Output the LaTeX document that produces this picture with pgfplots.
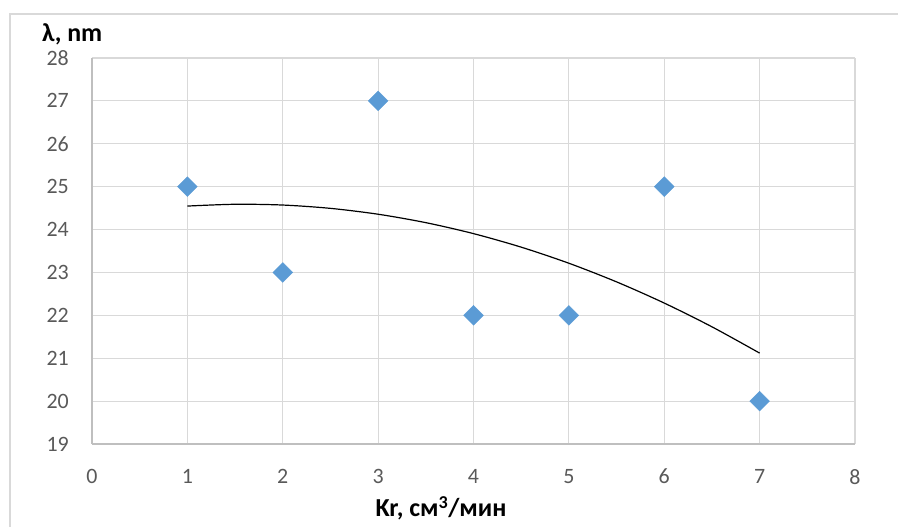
\documentclass[border=0pt]{standalone}
\usepackage{pgfplots}
\pgfplotsset{compat=1.18}
\usepackage{fontspec}
\setmainfont{Carlito}
\definecolor{mkblue}{HTML}{5B9BD5}
\definecolor{gridc}{HTML}{D9D9D9}
\definecolor{axc}{HTML}{BFBFBF}
\definecolor{tickc}{HTML}{595959}
\begin{document}
\begin{tikzpicture}[x=1bp,y=1bp]
\path[use as bounding box] (0,0) rectangle (898,527);
\draw[gridc, line width=1.5bp] (10,0) -- (10,513) -- (898,513);
\begin{axis}[
  at={(92bp,83bp)}, anchor=south west,
  scale only axis, width=763bp, height=386bp,
  xmin=0, xmax=8, ymin=19, ymax=28,
  xtick={0,...,8}, ytick={19,...,28},
  major tick length=0pt,
  grid=major,
  grid style={gridc, line width=1.1bp},
  axis line style={axc, line width=1.3bp},
  axis x line*=bottom, axis y line*=left,
  /pgf/number format/assume math mode=true,
  tick label style={font=\fontsize{22}{26}\selectfont, text=tickc, inner sep=0pt},
  yticklabel style={anchor=east, xshift=-23bp},
  xticklabel style={anchor=north, yshift=-25bp},
  clip=false,
]
\addplot[black, line width=1.2bp, smooth] coordinates {
(1,24.5476) (1.5,24.5893) (2,24.5714) (2.5,24.4940) (3,24.3571) (3.5,24.1607)
(4,23.9048) (4.5,23.5893) (5,23.2143) (5.5,22.7798) (6,22.2857) (6.5,21.7321) (7,21.1190)
};
\addplot[only marks, mark=square*, mark size=7bp, mark options={rotate=45, fill=mkblue, draw=mkblue}] coordinates {
(1,25) (2,23) (3,27) (4,22) (5,22) (6,25) (7,20)
};
\end{axis}
\node[anchor=base west, inner sep=0pt, font=\fontsize{26}{30}\selectfont\bfseries] at (42,485) {λ, nm};
\node[anchor=base, inner sep=0pt, font=\fontsize{26}{30}\selectfont\bfseries] at (441,10) {Kr, см\textsuperscript{3}/мин};
\end{tikzpicture}
\end{document}
